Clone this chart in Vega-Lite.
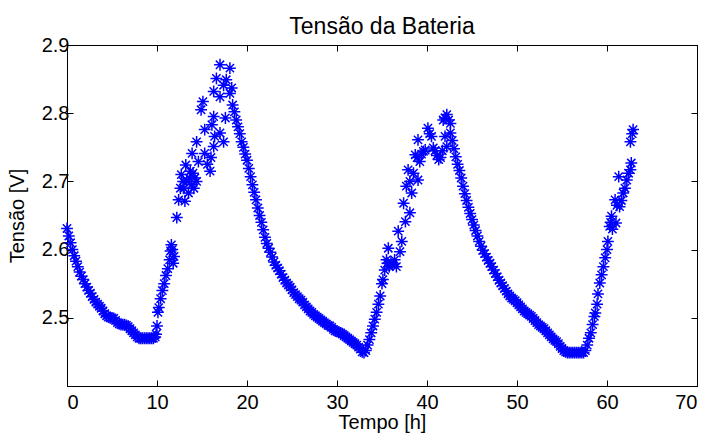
{
  "$schema": "https://vega.github.io/schema/vega-lite/v6.json",
  "width": 630,
  "height": 341,
  "autosize": {"type": "none"},
  "padding": {"left": 67, "top": 45, "right": 16, "bottom": 50},
  "background": "white",
  "title": {
    "text": "Tensão da Bateria",
    "font": "Liberation Sans",
    "fontSize": 23,
    "fontWeight": "normal",
    "color": "black",
    "anchor": "middle",
    "baseline": "alphabetic",
    "offset": -22
  },
  "data": {
    "values": [
      {"t":0.0,"v":2.631},{"t":0.2,"v":2.620},{"t":0.4,"v":2.610},{"t":0.6,"v":2.600},{"t":0.8,"v":2.591},
      {"t":1.0,"v":2.583},{"t":1.2,"v":2.575},{"t":1.4,"v":2.567},{"t":1.6,"v":2.561},{"t":1.8,"v":2.556},
      {"t":2.0,"v":2.550},{"t":2.2,"v":2.545},{"t":2.4,"v":2.540},{"t":2.6,"v":2.536},{"t":2.8,"v":2.531},
      {"t":3.0,"v":2.527},{"t":3.2,"v":2.523},{"t":3.4,"v":2.520},{"t":3.6,"v":2.517},{"t":3.8,"v":2.514},
      {"t":4.0,"v":2.510},{"t":4.2,"v":2.506},{"t":4.4,"v":2.503},{"t":4.6,"v":2.501},{"t":4.8,"v":2.500},
      {"t":5.0,"v":2.500},{"t":5.2,"v":2.499},{"t":5.4,"v":2.496},{"t":5.6,"v":2.493},{"t":5.8,"v":2.491},
      {"t":6.0,"v":2.490},{"t":6.2,"v":2.490},{"t":6.4,"v":2.490},{"t":6.6,"v":2.489},{"t":6.8,"v":2.487},
      {"t":7.0,"v":2.484},{"t":7.2,"v":2.481},{"t":7.4,"v":2.478},{"t":7.6,"v":2.475},{"t":7.8,"v":2.472},
      {"t":8.0,"v":2.470},{"t":8.2,"v":2.470},{"t":8.4,"v":2.470},{"t":8.6,"v":2.470},{"t":8.8,"v":2.470},
      {"t":9.0,"v":2.470},{"t":9.2,"v":2.470},{"t":9.4,"v":2.470},{"t":9.6,"v":2.470},{"t":9.8,"v":2.472},
      {"t":9.9,"v":2.476},{"t":10.0,"v":2.488},{"t":10.1,"v":2.508},{"t":10.2,"v":2.515},{"t":10.4,"v":2.528},
      {"t":10.6,"v":2.540},{"t":10.8,"v":2.550},{"t":11.0,"v":2.562},{"t":11.2,"v":2.572},{"t":11.4,"v":2.585},
      {"t":11.5,"v":2.598},{"t":11.6,"v":2.607},{"t":11.7,"v":2.600},{"t":11.8,"v":2.580},{"t":11.9,"v":2.590},
      {"t":12.2,"v":2.647},{"t":12.4,"v":2.673},{"t":12.6,"v":2.690},{"t":12.7,"v":2.710},{"t":12.9,"v":2.700},
      {"t":13.0,"v":2.690},{"t":13.1,"v":2.671},{"t":13.2,"v":2.724},{"t":13.3,"v":2.700},{"t":13.5,"v":2.683},
      {"t":13.6,"v":2.705},{"t":13.7,"v":2.715},{"t":13.8,"v":2.695},{"t":13.9,"v":2.741},{"t":14.0,"v":2.712},
      {"t":14.1,"v":2.690},{"t":14.2,"v":2.705},{"t":14.4,"v":2.700},{"t":14.4,"v":2.758},{"t":14.6,"v":2.729},
      {"t":14.9,"v":2.805},{"t":15.1,"v":2.817},{"t":15.3,"v":2.776},{"t":15.3,"v":2.741},{"t":15.6,"v":2.725},
      {"t":15.9,"v":2.715},{"t":16.0,"v":2.735},{"t":16.1,"v":2.783},{"t":16.3,"v":2.832},{"t":16.3,"v":2.795},
      {"t":16.3,"v":2.751},{"t":16.4,"v":2.766},{"t":16.6,"v":2.851},{"t":17.0,"v":2.871},{"t":17.0,"v":2.824},
      {"t":17.0,"v":2.771},{"t":17.4,"v":2.841},{"t":17.4,"v":2.758},{"t":17.6,"v":2.793},{"t":17.7,"v":2.849},
      {"t":18.1,"v":2.866},{"t":18.1,"v":2.829},{"t":18.3,"v":2.837},
      {"t":18.4,"v":2.812},{"t":18.6,"v":2.802},{"t":18.8,"v":2.790},{"t":19.0,"v":2.780},{"t":19.2,"v":2.770},
      {"t":19.4,"v":2.758},{"t":19.6,"v":2.750},{"t":19.8,"v":2.740},{"t":20.0,"v":2.731},{"t":20.2,"v":2.719},
      {"t":20.4,"v":2.707},{"t":20.6,"v":2.695},{"t":20.8,"v":2.684},{"t":21.0,"v":2.673},{"t":21.2,"v":2.661},
      {"t":21.4,"v":2.650},{"t":21.6,"v":2.640},{"t":21.8,"v":2.629},{"t":22.0,"v":2.618},{"t":22.2,"v":2.609},
      {"t":22.4,"v":2.602},{"t":22.6,"v":2.596},{"t":22.8,"v":2.589},{"t":23.0,"v":2.582},{"t":23.2,"v":2.577},
      {"t":23.4,"v":2.573},{"t":23.6,"v":2.569},{"t":23.8,"v":2.564},{"t":24.0,"v":2.559},{"t":24.2,"v":2.555},
      {"t":24.4,"v":2.551},{"t":24.6,"v":2.548},{"t":24.8,"v":2.545},{"t":25.0,"v":2.541},{"t":25.2,"v":2.537},
      {"t":25.4,"v":2.534},{"t":25.6,"v":2.531},{"t":25.8,"v":2.528},{"t":26.0,"v":2.526},{"t":26.2,"v":2.523},
      {"t":26.4,"v":2.519},{"t":26.6,"v":2.516},{"t":26.8,"v":2.513},{"t":27.0,"v":2.510},{"t":27.2,"v":2.508},
      {"t":27.4,"v":2.505},{"t":27.6,"v":2.503},{"t":27.8,"v":2.501},{"t":28.0,"v":2.499},{"t":28.2,"v":2.497},
      {"t":28.4,"v":2.495},{"t":28.6,"v":2.493},{"t":28.8,"v":2.491},{"t":29.0,"v":2.489},{"t":29.2,"v":2.488},
      {"t":29.4,"v":2.486},{"t":29.6,"v":2.483},{"t":29.8,"v":2.481},{"t":30.0,"v":2.480},{"t":30.2,"v":2.479},
      {"t":30.4,"v":2.478},{"t":30.6,"v":2.476},{"t":30.8,"v":2.474},{"t":31.0,"v":2.472},{"t":31.2,"v":2.470},
      {"t":31.4,"v":2.468},{"t":31.6,"v":2.466},{"t":31.8,"v":2.464},{"t":32.0,"v":2.462},{"t":32.2,"v":2.460},
      {"t":32.4,"v":2.457},{"t":32.6,"v":2.454},{"t":32.8,"v":2.450},{"t":33.0,"v":2.449},
      {"t":33.2,"v":2.452},{"t":33.4,"v":2.460},{"t":33.6,"v":2.468},{"t":33.8,"v":2.478},{"t":34.0,"v":2.488},
      {"t":34.2,"v":2.498},{"t":34.4,"v":2.508},{"t":34.6,"v":2.520},{"t":34.8,"v":2.532},{"t":35.0,"v":2.550},
      {"t":35.1,"v":2.556},{"t":35.3,"v":2.570},{"t":35.5,"v":2.585},{"t":35.6,"v":2.580},{"t":35.7,"v":2.602},
      {"t":35.8,"v":2.575},{"t":36.0,"v":2.580},{"t":36.2,"v":2.578},{"t":36.4,"v":2.585},{"t":36.6,"v":2.575},
      {"t":36.8,"v":2.627},{"t":37.0,"v":2.597},{"t":37.2,"v":2.612},{"t":37.4,"v":2.668},{"t":37.6,"v":2.641},
      {"t":37.7,"v":2.693},{"t":37.9,"v":2.717},{"t":38.1,"v":2.654},{"t":38.1,"v":2.700},{"t":38.3,"v":2.683},
      {"t":38.5,"v":2.712},{"t":38.7,"v":2.739},{"t":38.9,"v":2.735},{"t":39.0,"v":2.761},{"t":39.0,"v":2.702},
      {"t":39.2,"v":2.729},{"t":39.4,"v":2.740},{"t":39.6,"v":2.744},{"t":39.8,"v":2.746},{"t":40.1,"v":2.778},
      {"t":40.3,"v":2.770},{"t":40.5,"v":2.766},{"t":40.7,"v":2.749},{"t":40.9,"v":2.745},{"t":41.1,"v":2.738},
      {"t":41.3,"v":2.732},{"t":41.5,"v":2.735},{"t":41.7,"v":2.745},{"t":41.8,"v":2.790},{"t":42.0,"v":2.793},
      {"t":42.0,"v":2.766},{"t":42.2,"v":2.751},{"t":42.2,"v":2.798},{"t":42.4,"v":2.790},{"t":42.6,"v":2.785},
      {"t":42.6,"v":2.771},{"t":42.8,"v":2.760},
      {"t":43.0,"v":2.748},{"t":43.2,"v":2.736},{"t":43.4,"v":2.725},{"t":43.6,"v":2.716},{"t":43.8,"v":2.705},
      {"t":44.0,"v":2.693},{"t":44.2,"v":2.682},{"t":44.4,"v":2.672},{"t":44.6,"v":2.662},{"t":44.8,"v":2.653},
      {"t":45.0,"v":2.644},{"t":45.2,"v":2.636},{"t":45.4,"v":2.628},{"t":45.6,"v":2.620},{"t":45.8,"v":2.612},
      {"t":46.0,"v":2.605},{"t":46.2,"v":2.599},{"t":46.4,"v":2.594},{"t":46.6,"v":2.589},{"t":46.8,"v":2.584},
      {"t":47.0,"v":2.580},{"t":47.2,"v":2.575},{"t":47.4,"v":2.570},{"t":47.6,"v":2.565},{"t":47.8,"v":2.560},
      {"t":48.0,"v":2.555},{"t":48.2,"v":2.551},{"t":48.4,"v":2.547},{"t":48.6,"v":2.543},{"t":48.8,"v":2.539},
      {"t":49.0,"v":2.535},{"t":49.2,"v":2.532},{"t":49.4,"v":2.529},{"t":49.6,"v":2.527},{"t":49.8,"v":2.525},
      {"t":50.0,"v":2.522},{"t":50.2,"v":2.519},{"t":50.4,"v":2.516},{"t":50.6,"v":2.513},{"t":50.8,"v":2.510},
      {"t":51.0,"v":2.508},{"t":51.2,"v":2.506},{"t":51.4,"v":2.504},{"t":51.6,"v":2.502},{"t":51.8,"v":2.499},
      {"t":52.0,"v":2.496},{"t":52.2,"v":2.493},{"t":52.4,"v":2.490},{"t":52.6,"v":2.488},{"t":52.8,"v":2.486},
      {"t":53.0,"v":2.484},{"t":53.2,"v":2.481},{"t":53.4,"v":2.478},{"t":53.6,"v":2.475},{"t":53.8,"v":2.472},
      {"t":54.0,"v":2.469},{"t":54.2,"v":2.467},{"t":54.4,"v":2.465},{"t":54.6,"v":2.462},{"t":54.8,"v":2.458},
      {"t":55.0,"v":2.455},{"t":55.2,"v":2.452},{"t":55.4,"v":2.450},{"t":55.6,"v":2.449},{"t":55.8,"v":2.449},
      {"t":56.0,"v":2.449},{"t":56.2,"v":2.449},{"t":56.4,"v":2.449},{"t":56.6,"v":2.449},{"t":56.8,"v":2.449},
      {"t":57.0,"v":2.449},{"t":57.2,"v":2.449},{"t":57.4,"v":2.449},
      {"t":57.6,"v":2.452},{"t":57.8,"v":2.460},{"t":58.0,"v":2.470},{"t":58.2,"v":2.478},{"t":58.4,"v":2.490},
      {"t":58.6,"v":2.502},{"t":58.7,"v":2.507},{"t":58.9,"v":2.520},{"t":59.0,"v":2.535},{"t":59.2,"v":2.551},
      {"t":59.4,"v":2.563},{"t":59.6,"v":2.575},{"t":59.8,"v":2.588},{"t":60.0,"v":2.600},{"t":60.1,"v":2.612},
      {"t":60.3,"v":2.634},{"t":60.4,"v":2.640},{"t":60.5,"v":2.649},{"t":60.6,"v":2.630},{"t":61.0,"v":2.639},
      {"t":60.9,"v":2.673},{"t":61.1,"v":2.665},{"t":61.3,"v":2.707},{"t":61.4,"v":2.663},{"t":61.6,"v":2.672},
      {"t":61.8,"v":2.683},{"t":62.0,"v":2.690},{"t":62.2,"v":2.702},{"t":62.4,"v":2.712},{"t":62.6,"v":2.717},
      {"t":62.7,"v":2.727},{"t":62.6,"v":2.758},{"t":62.9,"v":2.776},{"t":62.8,"v":2.770}
    ]
  },
  "layer": [
    {
      "mark": {
        "type": "point",
        "shape": "M-1,0L1,0M0,-1L0,1M-0.7,-0.7L0.7,0.7M-0.7,0.7L0.7,-0.7",
        "filled": false,
        "stroke": "#0000ff",
        "strokeWidth": 1.5,
        "opacity": 1,
        "size": 140
      },
      "encoding": {
        "x": {
          "field": "t",
          "type": "quantitative",
          "scale": {"domain": [0, 70], "nice": false, "zero": false},
          "axis": {
            "title": "Tempo [h]",
            "values": [0, 10, 20, 30, 40, 50, 60, 70],
            "format": "d",
            "orient": "bottom"
          }
        },
        "y": {
          "field": "v",
          "type": "quantitative",
          "scale": {"domain": [2.4, 2.9], "nice": false, "zero": false},
          "axis": {
            "title": "Tensão [V]",
            "values": [2.5, 2.6, 2.7, 2.8, 2.9],
            "format": ".1f",
            "orient": "left"
          }
        }
      }
    },
    {
      "mark": {"type": "point", "opacity": 0},
      "encoding": {
        "x": {
          "field": "t",
          "type": "quantitative",
          "scale": {"domain": [0, 70], "nice": false, "zero": false},
          "axis": {"title": null, "labels": false, "values": [0, 10, 20, 30, 40, 50, 60, 70], "orient": "top"}
        },
        "y": {
          "field": "v",
          "type": "quantitative",
          "scale": {"domain": [2.4, 2.9], "nice": false, "zero": false},
          "axis": {"title": null, "labels": false, "values": [2.5, 2.6, 2.7, 2.8, 2.9], "orient": "right"}
        }
      }
    }
  ],
  "resolve": {"axis": {"x": "independent", "y": "independent"}},
  "config": {
    "view": {"stroke": "black", "strokeWidth": 1},
    "axis": {
      "grid": false,
      "domainColor": "black",
      "domainWidth": 1,
      "tickColor": "black",
      "tickWidth": 1,
      "tickSize": -6,
      "labelFont": "Liberation Sans",
      "labelFontSize": 20,
      "labelColor": "black",
      "titleFont": "Liberation Sans",
      "titleFontSize": 20,
      "titleFontWeight": "normal",
      "titleColor": "black"
    },
    "axisBottom": {"labelPadding": 12, "titlePadding": 0},
    "axisLeft": {"labelPadding": 4, "titlePadding": 14}
  }
}
